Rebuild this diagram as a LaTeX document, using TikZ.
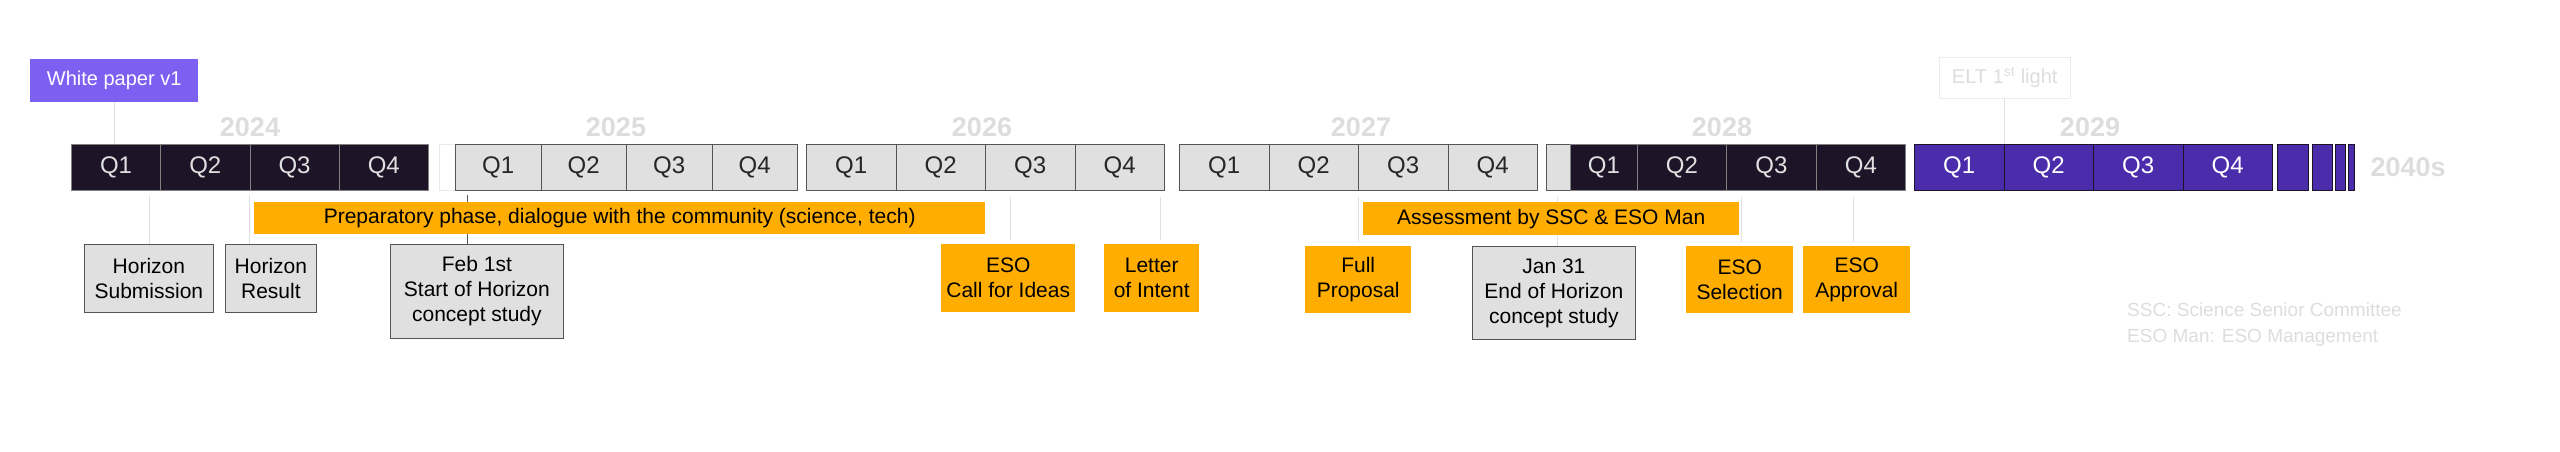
\documentclass[tikz,border=0pt]{standalone}
\usepackage{fontspec}
\setmainfont{Liberation Sans}
\definecolor{darkq}{HTML}{1E1428}
\definecolor{purq}{HTML}{4B2DAB}
\definecolor{wpc}{HTML}{7D5FF2}
\definecolor{orng}{HTML}{FFAD00}
\definecolor{lgray}{HTML}{E0E0E0}
\definecolor{ghost}{HTML}{DDDDDD}
\definecolor{bord}{HTML}{555555}
\tikzset{
  qbox/.style={draw=bord, line width=0.8pt, minimum height=46pt, inner sep=0pt, font=\fontsize{24}{28}\selectfont},
  qdark/.style={qbox, fill=darkq, text=lgray, draw=gray},
  qlight/.style={qbox, fill=lgray, text=black!85},
  qpur/.style={qbox, fill=purq, text=white, draw=darkq},
  yr/.style={font=\bfseries\fontsize{27}{30}\selectfont, text=ghost},
  evgray/.style={draw=bord, fill=lgray, line width=0.8pt, align=center, inner sep=0pt, font=\fontsize{21}{25}\selectfont},
  evor/.style={fill=orng, align=center, inner sep=0pt, font=\fontsize{21}{25}\selectfont},
  thin/.style={draw=lgray, line width=0.8pt},
  dk/.style={draw=bord, line width=0.8pt}
}
\newcommand{\qrow}[5]{% prefix, x0, width, style, year
  \foreach \i in {1,...,4}{
    \node[#4, minimum width=#3pt, anchor=north west] (#1q\i) at ({#2+(\i-1)*#3}, -144) {Q\i};
  }
}
\begin{document}
\begin{tikzpicture}[x=1pt,y=1pt]
\useasboundingbox (0,0) rectangle (2560,-451);
% white paper
\node[fill=wpc, text=white, minimum width=168pt, minimum height=43pt, inner sep=0pt, font=\fontsize{20}{24}\selectfont, anchor=north west] (wp) at (30,-59) {White paper v1};
\node[draw=lgray!60, text=ghost, minimum width=131pt, minimum height=41pt, inner sep=0pt, font=\fontsize{20}{24}\selectfont, anchor=north west] (elt) at (1939,-57) {ELT 1\textsuperscript{st} light};
% years
\node[yr] (y24) at (250,-127) {2024};
\node[yr] (y25) at (616,-127) {2025};
\node[yr] (y26) at (982,-127) {2026};
\node[yr] (y27) at (1361,-127) {2027};
\node[yr] (y28) at (1722,-127) {2028};
\node[yr] (y29) at (2090,-127) {2029};
\node[yr, anchor=west] (y40) at (2367,-167) {2040s};
% ghost boxes
\node[draw=lgray!70, minimum width=16pt, minimum height=46pt, inner sep=0pt, anchor=north west] (g25) at (439,-144) {};
\node[draw=bord, fill=lgray, minimum width=359pt, minimum height=46pt, inner sep=0pt, anchor=north west] (g28) at (1546,-144) {};
% quarter rows
\qrow{a}{71}{89.25}{qdark}{2024}
\qrow{b}{455}{85.5}{qlight}{2025}
\qrow{c}{806}{89.5}{qlight}{2026}
\qrow{d}{1179}{89.5}{qlight}{2027}
\node[qdark, minimum width=67pt, anchor=north west] (eq1) at (1570,-144) {Q1};
\node[qdark, minimum width=89pt, anchor=north west] (eq2) at (1637,-144) {Q2};
\node[qdark, minimum width=90pt, anchor=north west] (eq3) at (1726,-144) {Q3};
\node[qdark, minimum width=89pt, anchor=north west] (eq4) at (1816,-144) {Q4};
\qrow{f}{1914}{89.5}{qpur}{2029}
\node[qpur, minimum width=31pt, anchor=north west] (s1) at (2277,-144) {};
\node[qpur, minimum width=20pt, anchor=north west] (s2) at (2312,-144) {};
\node[qpur, minimum width=10pt, anchor=north west] (s3) at (2335,-144) {};
\node[qpur, minimum width=6pt, anchor=north west] (s4) at (2348,-144) {};
% phase bars
\node[fill=orng, minimum width=731pt, minimum height=32pt, inner sep=0pt, anchor=north west, font=\fontsize{21}{25}\selectfont] (prep) at (254,-202) {Preparatory phase, dialogue with the community (science, tech)};
\node[fill=orng, minimum width=376pt, minimum height=33pt, inner sep=0pt, anchor=north west, font=\fontsize{21}{25}\selectfont] (assess) at (1363,-202) {Assessment by SSC \& ESO Man};
% events
\node[evgray, minimum width=129pt, minimum height=68pt, anchor=north west] (hs) at (84,-244) {Horizon\\Submission};
\node[evgray, minimum width=91pt, minimum height=68pt, anchor=north west] (hr) at (225,-244) {Horizon\\Result};
\node[evgray, minimum width=173pt, minimum height=94pt, anchor=north west] (feb) at (390,-244) {Feb 1st\\Start of Horizon\\concept study};
\node[evor, minimum width=134pt, minimum height=68pt, anchor=north west] (cfi) at (941,-244) {ESO\\Call for Ideas};
\node[evor, minimum width=95pt, minimum height=68pt, anchor=north west] (loi) at (1104,-244) {Letter\\of Intent};
\node[evor, minimum width=106pt, minimum height=67pt, anchor=north west] (fp) at (1305,-246) {Full\\Proposal};
\node[evgray, minimum width=163pt, minimum height=93pt, anchor=north west] (jan) at (1472,-246) {Jan 31\\End of Horizon\\concept study};
\node[evor, minimum width=107pt, minimum height=67pt, anchor=north west] (sel) at (1686,-246) {ESO\\Selection};
\node[evor, minimum width=107pt, minimum height=67pt, anchor=north west] (app) at (1803,-246) {ESO\\Approval};
% connectors
\draw[thin] (wp.south -| 114,0) -- (aq1.north -| 114,0);
\draw[thin] (elt.south -| 2004,0) -- (fq2.north -| 2004,0);
\draw[thin] ([yshift=-4pt]aq1.south -| hs.north) -- (hs.north);
\draw[thin] ([yshift=-4pt]aq3.south -| 249,0) -- (hr.north -| 249,0);
\draw[dk] ([yshift=-4pt]bq1.south -| 467,0) -- (prep.north -| 467,0);
\draw[dk] (prep.south -| 467,0) -- (feb.north -| 467,0);
\draw[thin] ([yshift=-6pt]cq3.south -| 1010,0) -- ([yshift=4pt]cfi.north -| 1010,0);
\draw[thin] ([yshift=-6pt]cq4.south -| 1160,0) -- ([yshift=4pt]loi.north -| 1160,0);
\draw[thin] ([yshift=-6pt]dq3.south -| 1358,0) -- ([yshift=4pt]fp.north -| 1358,0);
\draw[thin] ([yshift=-6pt]eq1.south -| 1557,0) -- (assess.north -| 1557,0);
\draw[thin] (assess.south -| 1557,0) -- (jan.north -| 1557,0);
\draw[thin] ([yshift=-6pt]eq3.south -| 1741,0) -- ([yshift=4pt]sel.north -| 1741,0);
\draw[thin] ([yshift=-6pt]eq4.south -| 1853,0) -- ([yshift=4pt]app.north -| 1853,0);
% legend
\node[anchor=north west, text=ghost, align=left, inner sep=0pt, font=\fontsize{19}{26}\selectfont] (leg) at (2127,-303) {SSC: Science Senior Committee\\ESO Man: ESO Management};
\end{tikzpicture}
\end{document}
